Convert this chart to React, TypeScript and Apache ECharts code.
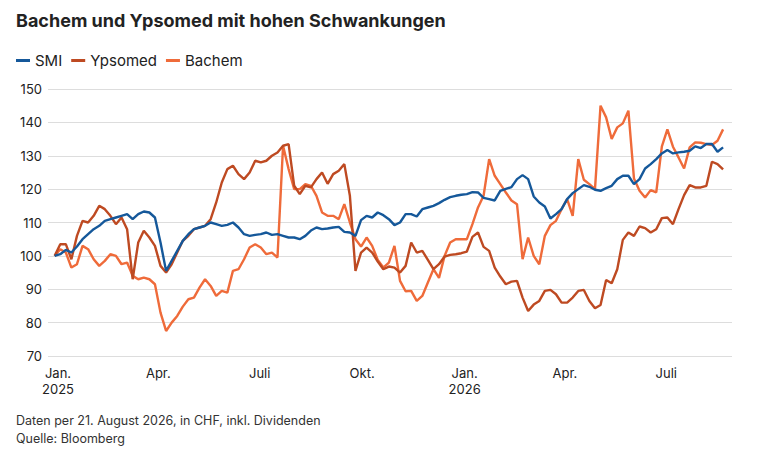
import React, { useEffect, useRef } from "react";
import * as echarts from "echarts";

const DAY_MS = 24 * 3600 * 1000;
const ORIGIN = Date.UTC(2025, 0, 1);
const START = Date.UTC(2024, 11, 29);
const STEP_DAYS = 5;

const SMI = [
  100, 100.5, 101.8, 101, 102.8, 105, 106.5, 108, 109, 110.5,
  111, 111.5, 112, 112.5, 111, 112.5, 113.3, 113, 111.5, 104,
  95.5, 98.5, 101.5, 104.5, 106.5, 108, 108.5, 109, 110, 109.5,
  109, 109.3, 110, 108.5, 106.5, 106, 106.3, 106.5, 107, 106.3,
  106.5, 106, 105.5, 105.5, 105, 106, 107.6, 108.5, 108, 108.2,
  108.5, 108.7, 107.2, 107, 106, 110.7, 112, 111.5, 113, 112.2,
  111, 109.2, 110, 112.5, 112.5, 111.8, 114, 114.5, 115, 115.8,
  116.8, 117.6, 118, 118.3, 118.5, 119.1, 119, 117.4, 117, 116.6,
  119.5, 120.1, 120.6, 123, 124.2, 123, 117.8, 116, 114.8, 111.2,
  112.5, 114, 117, 118.8, 120, 121.2, 120.7, 119.8, 119.5, 120.3,
  121, 123, 124, 124, 121.5, 123, 126.2, 127.5, 129, 130.7,
  131.7, 130.7, 131, 131.2, 131.5, 132.8, 132.3, 133.5, 133.5, 131.2,
  132.5,
];

const YPSOMED = [
  100, 103.5, 103.5, 99, 106, 110.5, 110, 112, 115, 114,
  112, 109.5, 111.5, 108, 93, 104, 107.5, 105.5, 103, 97,
  95, 97.5, 101, 104.5, 106, 108, 108.5, 109, 111, 116,
  122, 126, 127, 124.5, 123, 125, 128.5, 128, 128.5, 130,
  131, 133, 133.5, 121, 118.5, 121, 120.5, 123, 125, 121.6,
  124.5, 125.5, 127.5, 118, 95.5, 101, 102.5, 101, 98.3, 96,
  96.8, 96.5, 95, 97, 104, 101, 101.5, 98.8, 96, 97.5,
  99.8, 100.3, 100.5, 100.8, 101.3, 105.7, 107, 102.7, 101.5, 96.5,
  93.8, 91.5, 92.3, 92.5, 87.5, 83.5, 85.4, 86.5, 89.5, 89.8,
  88.5, 86, 86, 87.5, 89.5, 89.8, 86.5, 84.3, 85.3, 92.8,
  91.8, 96, 104.8, 107, 106, 108.8, 108.3, 107, 108, 111.3,
  111.5, 109.5, 114, 118.2, 121.2, 120.5, 120.5, 121, 128.2, 127.5,
  125.9,
];

const BACHEM = [
  100, 102, 101, 96.5, 97.5, 103, 102, 99, 97, 98.5,
  100.5, 100, 97.5, 98, 94, 93, 93.5, 93, 91.5, 83,
  77.5, 80, 82, 84.8, 87, 87.5, 90.5, 93, 91, 88,
  89.5, 89, 95.5, 96, 99, 102.5, 103.5, 102.5, 100.5, 101,
  99.5, 133, 126, 120, 120, 121.5, 121, 118, 113, 112,
  112, 111, 115.5, 110, 105, 102.8, 105.5, 103, 98.8, 96.5,
  98, 103, 92.5, 89.4, 89.5, 86.5, 88, 92, 96, 93.4,
  100, 104, 105, 105, 105, 109.5, 114.5, 118, 129, 124,
  121.5, 119, 116.6, 115.5, 99, 105.5, 100, 97.5, 106, 109.2,
  110.5, 114, 117, 112, 129, 122.8, 121.5, 120, 145, 141.5,
  135, 138.5, 139.7, 143.5, 123.2, 119.5, 117.5, 119.7, 119, 132.7,
  137.9, 132.7, 129.5, 126.2, 132.5, 134, 133.9, 133.5, 133.2, 134.5,
  137.9,
];

const SERIES_NAMES = ["SMI", "Ypsomed", "Bachem"];
const COLORS = ["#15589a", "#be4a22", "#ef6b3a"];
const QUARTER_DATES = [
  Date.UTC(2025, 0, 1),
  Date.UTC(2025, 3, 1),
  Date.UTC(2025, 6, 1),
  Date.UTC(2025, 9, 1),
  Date.UTC(2026, 0, 1),
  Date.UTC(2026, 3, 1),
  Date.UTC(2026, 6, 1),
];
const MONTH_LABELS: Record<number, string> = { 0: "Jan.", 3: "Apr.", 6: "Juli", 9: "Okt." };
const Y_TICKS = { min: 70, max: 150, interval: 10 };
const X_RANGE = { min: Date.UTC(2024, 11, 23), max: Date.UTC(2026, 7, 29) };
const TITLE = "Bachem und Ypsomed mit hohen Schwankungen";
const NOTE = "Daten per 21. August 2026, in CHF, inkl. Dividenden";
const SOURCE = "Quelle: Bloomberg";

const FONT = "Inter, 'Noto Sans', sans-serif";

const toDay = (t: number) => Math.round((t - ORIGIN) / DAY_MS);

function toPairs(values: number[]) {
  return values.map((v, i) => [toDay(START) + i * STEP_DAYS, v]);
}

export default function App() {
  const ref = useRef<HTMLDivElement>(null);
  useEffect(() => {
    if (!ref.current) return;
    const chart = echarts.init(ref.current, undefined, { renderer: "svg" });
    const data = [SMI, YPSOMED, BACHEM];
    const tickDays = QUARTER_DATES.map(toDay);
    chart.setOption({
      animation: false,
      backgroundColor: "#ffffff",
      title: {
        text: TITLE,
        left: 11,
        top: 6,
        textStyle: { fontFamily: FONT, fontSize: 18, fontWeight: "bold", color: "#222222" },
      },
      legend: {
        data: SERIES_NAMES,
        left: 16,
        top: 53,
        padding: 0,
        icon: "rect",
        itemWidth: 14,
        itemHeight: 3,
        itemGap: 9,
        textStyle: { fontFamily: FONT, fontSize: 15, color: "#222222" },
      },
      grid: { left: 48, right: 28, top: 89, bottom: 105, containLabel: false },
      xAxis: {
        type: "value",
        min: toDay(X_RANGE.min),
        max: toDay(X_RANGE.max),
        axisLine: { show: false },
        axisTick: { show: false },
        splitLine: { show: false },
        axisLabel: {
          customValues: tickDays,
          fontFamily: FONT,
          fontSize: 13,
          lineHeight: 16,
          color: "#222222",
          margin: 9,
          formatter: (v: number) => {
            const d = new Date(ORIGIN + v * DAY_MS);
            const m = d.getUTCMonth();
            const name = MONTH_LABELS[m] ?? "";
            return m === 0 ? `${name}\n${d.getUTCFullYear()}` : name;
          },
        },
      },
      yAxis: {
        type: "value",
        min: Y_TICKS.min,
        max: Y_TICKS.max,
        interval: Y_TICKS.interval,
        axisLine: { show: false },
        axisTick: { show: false },
        axisLabel: { fontFamily: FONT, fontSize: 13, color: "#222222", margin: 6 },
        splitLine: { lineStyle: { color: "#dddddd", width: 1 } },
      },
      series: data.map((vals, k) => ({
        name: SERIES_NAMES[k],
        type: "line",
        data: toPairs(vals),
        showSymbol: false,
        symbol: "none",
        z: k === 0 ? 4 : 3 - k + 1,
        lineStyle: { color: COLORS[k], width: 2.4 },
        itemStyle: { color: COLORS[k] },
      })),
      graphic: [
        {
          type: "text",
          left: 16,
          top: 414,
          style: { text: NOTE, fontFamily: FONT, fontSize: 12.5, fill: "#333333" },
        },
        {
          type: "text",
          left: 16,
          top: 432,
          style: { text: SOURCE, fontFamily: FONT, fontSize: 12.5, fill: "#333333" },
        },
      ],
    });
    return () => chart.dispose();
  }, []);
  return (
    <div
      ref={ref}
      style={{ position: "fixed", left: 0, top: 0, width: 760, height: 461, background: "#fff" }}
    />
  );
}
